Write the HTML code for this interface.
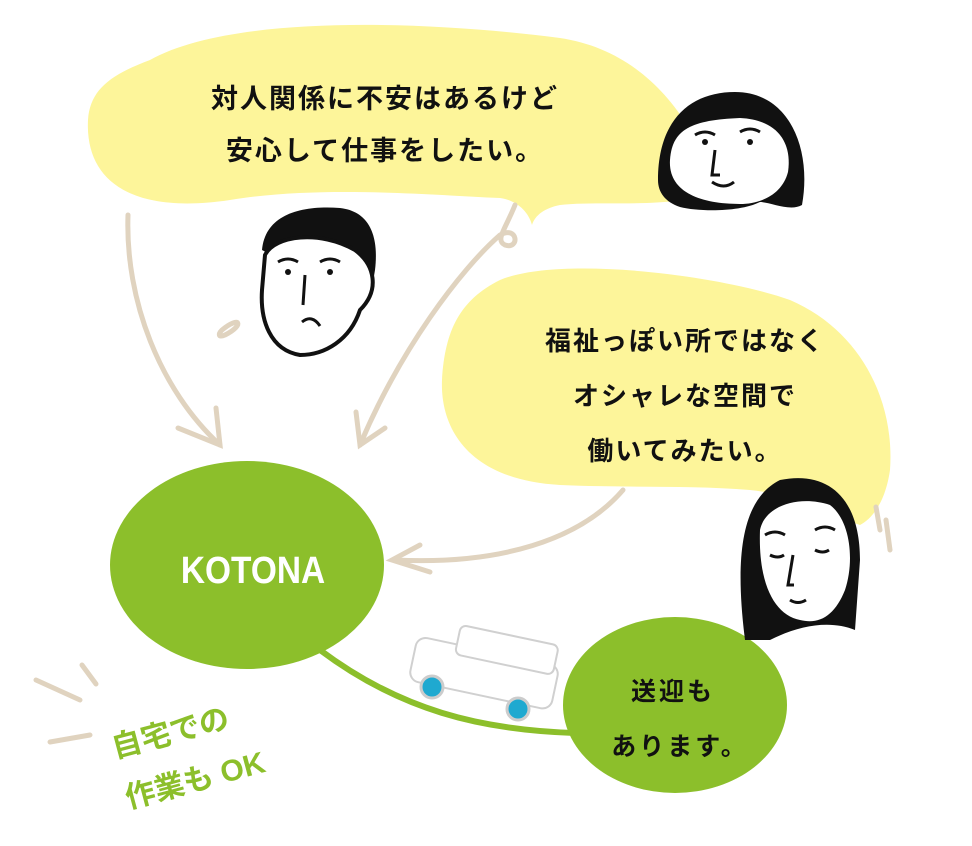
<!DOCTYPE html>
<html><head><meta charset="utf-8"><style>
html,body{margin:0;padding:0;background:#fff;}
svg{display:block}
.t{font-family:"Liberation Sans","Noto Sans CJK JP",sans-serif;font-weight:700;}
</style></head><body>
<svg width="972" height="846" viewBox="0 0 972 846" xmlns="http://www.w3.org/2000/svg">
<!-- bubble 1 -->
<path d="M150,60 C230,15 420,20 560,38 C640,50 690,110 718,190 C680,210 600,200 560,205 C545,208 535,215 532,225 C528,210 515,200 500,198 C430,195 320,185 230,200 C130,215 85,180 88,120 C90,90 110,75 150,60 Z" fill="#fdf59a"/>
<!-- bubble 2 -->
<path d="M500,280 C560,255 720,275 790,300 C860,330 895,400 890,470 C885,505 870,520 860,525 C830,515 800,495 750,490 C690,485 630,488 560,485 C470,480 440,430 442,380 C445,330 460,300 500,280 Z" fill="#fdf59a"/>
<!-- arrows -->
<g fill="none" stroke="#e0d3bf" stroke-width="5" stroke-linecap="round">
<path d="M128,215 C125,300 160,390 220,445"/>
<path d="M178,428 L220,445 L216,408"/>
<path d="M515,205 C505,230 495,240 505,245 C520,250 518,225 500,235 C460,270 400,350 360,445"/>
<path d="M356,412 L360,445 L385,428"/>
<path d="M623,490 C580,540 500,565 395,560"/>
<path d="M420,545 L392,560 L430,572"/>
<path d="M36,680 L80,700"/><path d="M82,665 L96,684"/><path d="M50,742 L90,735"/>
<path d="M222,330 C240,315 245,325 225,335 C218,338 218,334 222,330"/>
<path d="M876,507 L880,530"/><path d="M886,520 L890,550"/>
</g>
<!-- green -->
<path d="M320,650 C400,710 480,730 575,733" fill="none" stroke="#8cbf2b" stroke-width="6"/>
<ellipse cx="247" cy="565" rx="137" ry="104" fill="#8cbf2b"/>
<ellipse cx="675" cy="705" rx="112" ry="88" fill="#8cbf2b"/>
<text x="253" y="583" class="t" font-size="38" fill="#fff" text-anchor="middle" transform="translate(253 0) scale(0.88 1) translate(-253 0)">KOTONA</text>
<text x="673" y="700" class="t" font-size="25" fill="#111" text-anchor="middle" font-weight="400" letter-spacing="3">送迎も</text>
<text x="680" y="755" class="t" font-size="25" fill="#111" text-anchor="middle" font-weight="400" letter-spacing="3">あります。</text>
<g transform="rotate(-15 200 720)">
<text x="108" y="735" class="t" font-size="30" fill="#8cbf2b">自宅での</text>
<text x="108" y="787" class="t" font-size="30" fill="#8cbf2b">作業も OK</text>
</g>
<!-- car -->
<g fill="#fff" stroke="#d0d0d0" stroke-width="2" transform="rotate(12 480 680)">
<rect x="410" y="650" width="145" height="45" rx="10"/>
<rect x="450" y="630" width="100" height="30" rx="6"/>
</g>
<circle cx="432" cy="687" r="11" fill="#1fa9d0" stroke="#ccc" stroke-width="3"/>
<circle cx="518" cy="709" r="11" fill="#1fa9d0" stroke="#ccc" stroke-width="3"/>
<!-- bubble texts -->
<text x="385" y="108" class="t" font-size="27" fill="#111" text-anchor="middle" font-weight="400" letter-spacing="2">対人関係に不安はあるけど</text>
<text x="385" y="160" class="t" font-size="27" fill="#111" text-anchor="middle" font-weight="400" letter-spacing="2">安心して仕事をしたい。</text>
<text x="685" y="350" class="t" font-size="26" fill="#111" text-anchor="middle" font-weight="400" letter-spacing="2">福祉っぽい所ではなく</text>
<text x="685" y="405" class="t" font-size="26" fill="#111" text-anchor="middle" font-weight="400" letter-spacing="2">オシャレな空間で</text>
<text x="685" y="460" class="t" font-size="26" fill="#111" text-anchor="middle" font-weight="400" letter-spacing="2">働いてみたい。</text>
<!-- woman 1 -->
<path d="M658,180 C658,120 690,92 735,92 C790,92 812,150 802,205 C790,212 770,202 760,202 C740,212 700,212 680,207 C665,202 658,192 658,180 Z" fill="#111"/>
<path d="M670,160 C672,130 690,120 740,118 C780,120 792,145 788,172 C782,195 760,204 740,204 C700,204 668,192 670,160 Z" fill="#fff"/>
<path d="M695,135 q10,-6 20,0 M740,132 q10,-6 20,0 M715,150 l-3,25 l8,0 M712,182 q12,8 22,0" fill="none" stroke="#111" stroke-width="3"/>
<circle cx="705" cy="142" r="3" fill="#111"/><circle cx="750" cy="142" r="3" fill="#111"/>
<!-- man -->
<path d="M262,250 C265,215 300,205 340,208 C375,212 378,245 375,270 L370,300 L300,270 Z" fill="#111"/>
<path d="M265,255 C275,235 320,230 355,250 C375,265 380,290 360,310 C350,340 325,355 300,355 C270,350 260,320 262,290 Z" fill="#fff" stroke="#111" stroke-width="4"/>
<path d="M278,262 q10,-6 20,0 M320,262 q10,-6 20,0 M305,275 l-2,30 M302,322 q10,-8 18,4" fill="none" stroke="#111" stroke-width="3"/>
<circle cx="288" cy="272" r="3" fill="#111"/><circle cx="330" cy="272" r="3" fill="#111"/>
<!-- woman 2 -->
<path d="M745,640 C735,560 740,500 780,480 C830,470 860,500 860,560 L855,630 C830,620 800,625 770,640 Z" fill="#111"/>
<path d="M760,530 C765,505 800,495 830,505 C850,520 855,560 845,590 C835,615 820,625 800,620 C775,615 758,585 760,530 Z" fill="#fff"/>
<path d="M765,535 q10,-6 20,0 M815,530 q10,-6 20,0 M770,555 q8,4 14,0 M815,550 q8,4 14,0 M793,555 l-5,30 l6,0 M790,600 q8,5 16,0" fill="none" stroke="#111" stroke-width="3"/>
</svg>
</body></html>
